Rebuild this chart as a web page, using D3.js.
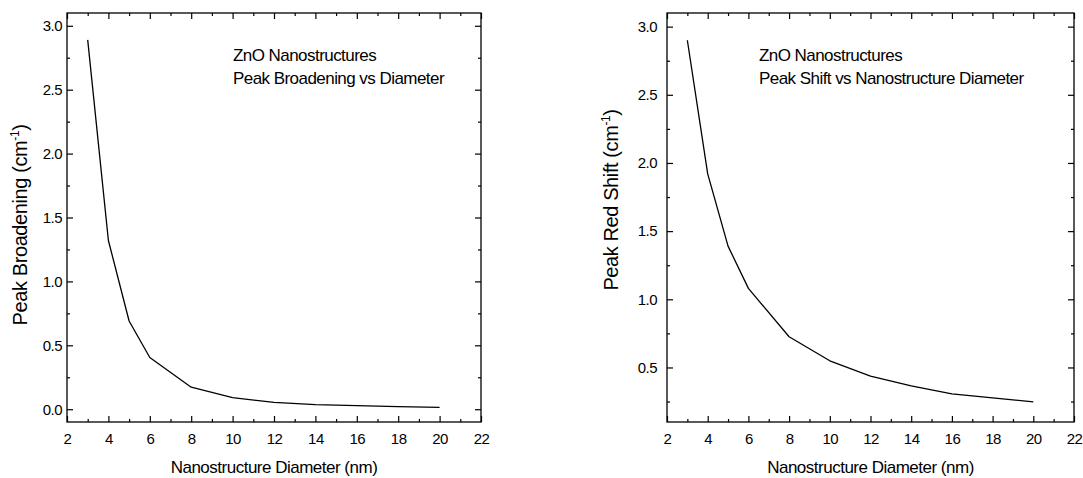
<!DOCTYPE html>
<html>
<head>
<meta charset="utf-8">
<script src="https://cdn.jsdelivr.net/npm/d3@7"></script>
<style>
  html, body { margin: 0; padding: 0; background: #fff; }
  svg { display: block; }
  text { font-family: "Liberation Sans", Arial, sans-serif; fill: #000; }
</style>
</head>
<body>
<svg id="chart" width="1083" height="478"></svg>
<script>
// Nanostructure diameters (nm) at which both quantities were computed
const diameters = [3, 4, 5, 6, 8, 10, 12, 14, 16, 18, 20];
// Raman peak broadening (cm^-1)
const broadening = [2.89, 1.32, 0.69, 0.405, 0.172, 0.09, 0.053, 0.036, 0.028, 0.02, 0.014];
// Raman peak red shift (cm^-1)
const redShift = [2.90, 1.92, 1.39, 1.08, 0.725, 0.549, 0.436, 0.365, 0.306, 0.277, 0.247];

// Axis ticks
const xMajor = [2, 4, 6, 8, 10, 12, 14, 16, 18, 20, 22];
const xMinor = [3, 5, 7, 9, 11, 13, 15, 17, 19, 21];
const yMajorLeft = [0.0, 0.5, 1.0, 1.5, 2.0, 2.5, 3.0];
const yMinorLeft = [0.25, 0.75, 1.25, 1.75, 2.25, 2.75];
const yMajorRight = [0.5, 1.0, 1.5, 2.0, 2.5, 3.0];
const yMinorRight = [0.25, 0.75, 1.25, 1.75, 2.25, 2.75];

const svg = d3.select("#chart");

function panel(opts) {
  const { left, right, top, bottom, xDomain, yDomain, values, yMajor, yMinor,
          yTitle, note, noteX, yTitleX, yTitleY, yPad } = opts;
  const x = d3.scaleLinear().domain(xDomain).range([left, right]);
  const y = d3.scaleLinear().domain(yDomain).range([bottom, top]);
  const g = svg.append("g");
  const fmt = d3.format(".1f");

  function axis(gen, transform, vals, size, labels, pad) {
    const a = g.append("g").attr("transform", transform)
      .call(gen.tickValues(vals).tickSize(-size).tickPadding(pad)
        .tickFormat(labels ? labels : () => ""));
    a.select(".domain").remove();
    a.selectAll("line").attr("stroke", "#000").attr("stroke-width", 1.2);
    return a;
  }

  // bottom
  const bx = axis(d3.axisBottom(x), `translate(0,${bottom})`, xMajor, 6, d3.format("d"), 11);
  axis(d3.axisBottom(x), `translate(0,${bottom})`, xMinor, 3, null, 0);
  // top
  axis(d3.axisTop(x), `translate(0,${top})`, xMajor, 6, null, 0);
  axis(d3.axisTop(x), `translate(0,${top})`, xMinor, 3, null, 0);
  // left
  const ly = axis(d3.axisLeft(y), `translate(${left},0)`, yMajor, 6, fmt, yPad);
  axis(d3.axisLeft(y), `translate(${left},0)`, yMinor, 3, null, 0);
  // right
  axis(d3.axisRight(y), `translate(${right},0)`, yMajor, 6, null, 0);
  axis(d3.axisRight(y), `translate(${right},0)`, yMinor, 3, null, 0);

  [bx, ly].forEach(a => a.selectAll("text")
    .attr("font-size", 15).attr("letter-spacing", -0.5)
    .style("font-family", "'Liberation Sans', Arial, sans-serif"));

  // frame
  g.append("rect")
    .attr("x", left).attr("y", top)
    .attr("width", right - left).attr("height", bottom - top)
    .attr("fill", "none").attr("stroke", "#000").attr("stroke-width", 1.3);

  // curve
  const line = d3.line().x((d, i) => x(diameters[i])).y(d => y(d));
  g.append("path").datum(values)
    .attr("d", line)
    .attr("fill", "none").attr("stroke", "#000").attr("stroke-width", 1.3)
    .attr("stroke-linejoin", "round");

  // x title
  g.append("text")
    .attr("x", (left + right) / 2).attr("y", 473)
    .attr("text-anchor", "middle").attr("font-size", 17).attr("letter-spacing", -0.5)
    .text("Nanostructure Diameter (nm)");

  // y title with superscript unit
  const yt = g.append("text")
    .attr("transform", `translate(${yTitleX},${yTitleY}) rotate(-90)`)
    .attr("text-anchor", "middle").attr("font-size", 20).attr("letter-spacing", -0.4);
  yt.append("tspan").text(yTitle + " (cm");
  yt.append("tspan").attr("dy", -8).attr("font-size", 12).text("-1");
  yt.append("tspan").attr("dy", 8).text(")");

  // in-plot note
  g.append("text").attr("x", noteX).attr("y", 61)
    .attr("font-size", 17).attr("letter-spacing", -0.55).text(note[0]);
  g.append("text").attr("x", noteX).attr("y", 84)
    .attr("font-size", 17).attr("letter-spacing", -0.55).text(note[1]);
}

panel({
  left: 67, right: 481, top: 13, bottom: 422,
  xDomain: [2, 22], yDomain: [-0.1, 3.1],
  values: broadening, yMajor: yMajorLeft, yMinor: yMinorLeft,
  yTitle: "Peak Broadening",
  note: ["ZnO Nanostructures", "Peak Broadening vs Diameter"],
  noteX: 233, yTitleX: 27, yTitleY: 225, yPad: 5
});

panel({
  left: 667, right: 1074, top: 13, bottom: 422,
  xDomain: [2, 22], yDomain: [0.1, 3.1],
  values: redShift, yMajor: yMajorRight, yMinor: yMinorRight,
  yTitle: "Peak Red Shift",
  note: ["ZnO Nanostructures", "Peak Shift vs Nanostructure Diameter"],
  noteX: 759, yTitleX: 618, yTitleY: 200, yPad: 10
});
</script>
</body>
</html>
